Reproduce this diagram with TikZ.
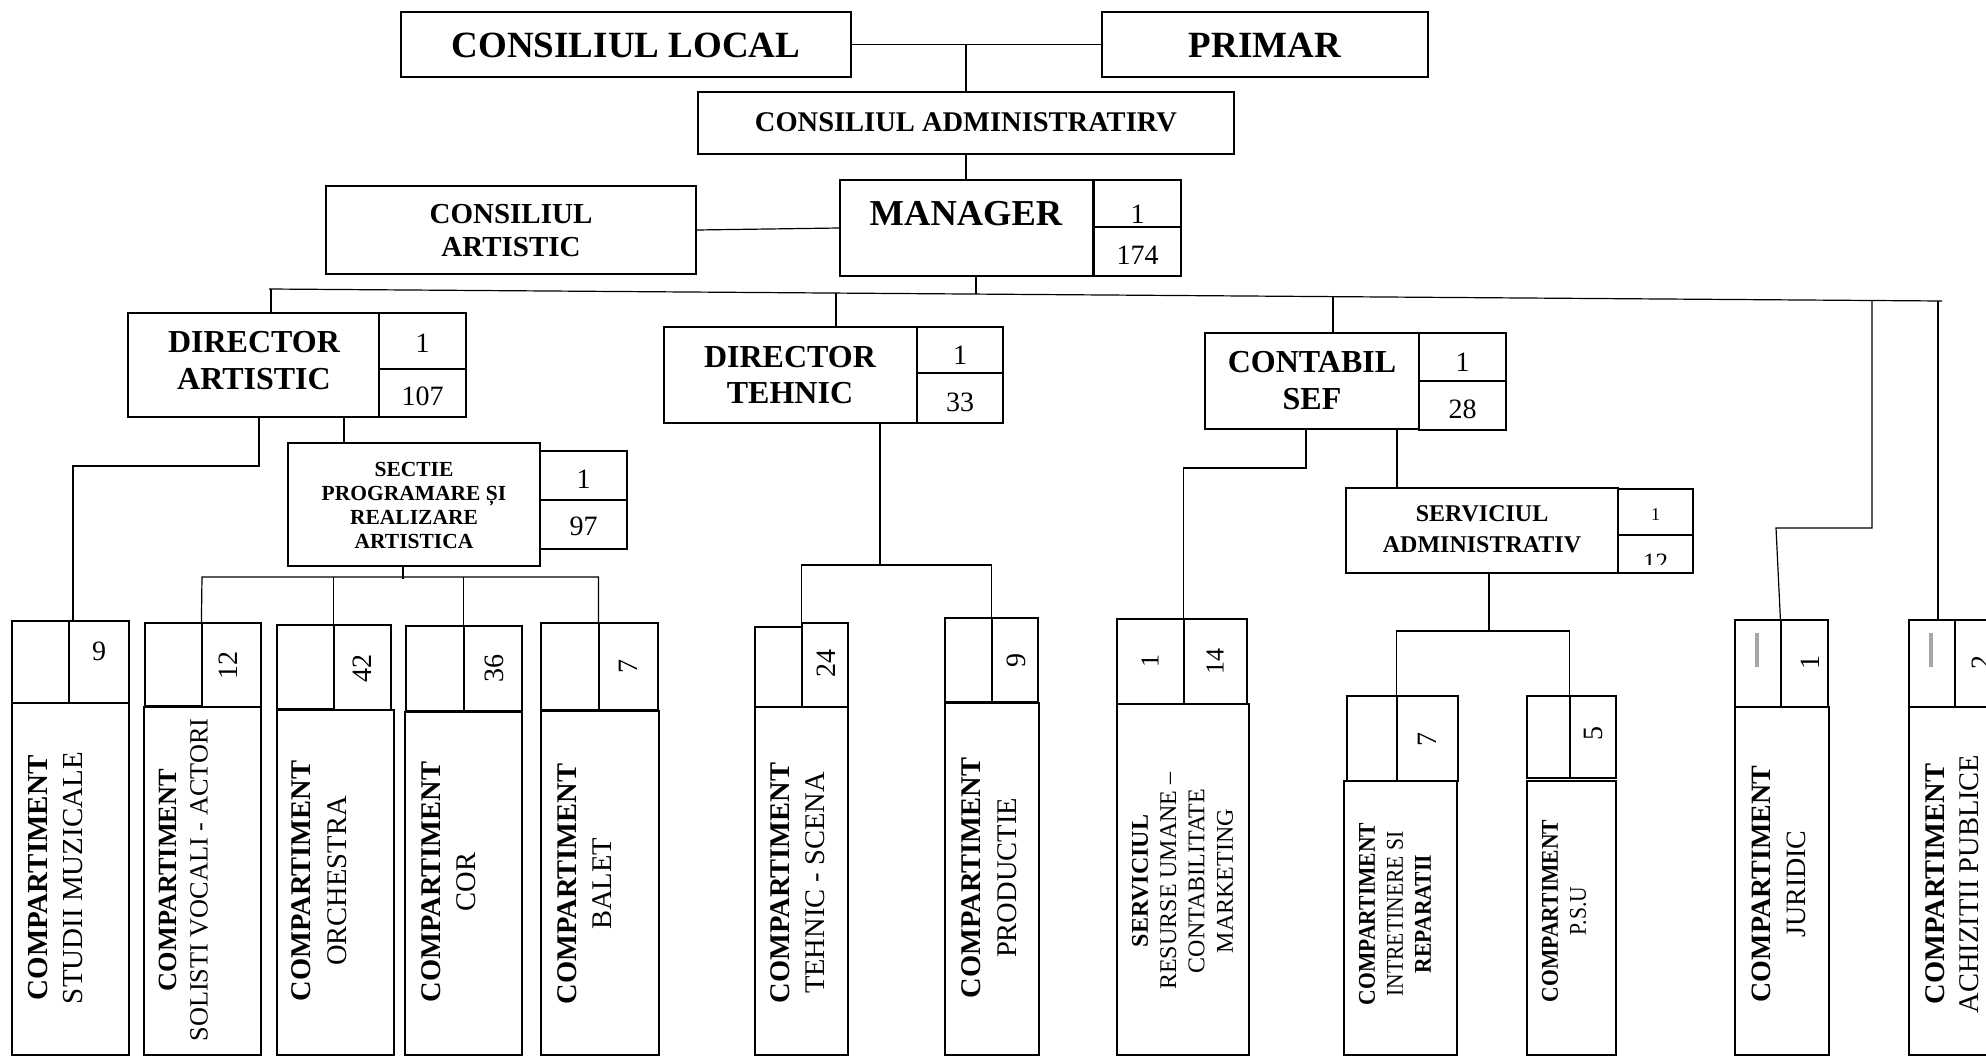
\documentclass[tikz,border=0pt]{standalone}
\usepackage{fontspec}
\setmainfont{Liberation Serif}
\newfontfamily\condfont[FakeStretch=0.9]{Liberation Serif}
\usetikzlibrary{fit}
\newcommand\fsz[2]{\fontsize{#1}{#2}\selectfont}
\newcommand\mkbox[6][]{\node[bx,#1,fit={(#3,#4) (#5,#6)}] (#2) {};}
\begin{document}
\begin{tikzpicture}[x=1pt,y=-1pt,
  bx/.style={draw,inner sep=0pt,line width=1.2pt},
  tbx/.style={line width=2.4pt},
  cn/.style={draw,line width=1.2pt},
  txt/.style={align=center,inner sep=0pt},
  rt/.style={align=center,inner sep=0pt,rotate=90},
  num/.style={inner sep=0pt,font=\fsz{28}{30}},
  rnum/.style={inner sep=0pt,rotate=90,font=\fsz{28}{30}},
  gbar/.style={draw=black!35,line width=4.5pt}]
\useasboundingbox (0,0) rectangle (1986,1057);
\fill[white] (0,0) rectangle (1986,1057);

% ---------- top ----------
\mkbox[tbx]{cl}{401}{12}{851}{77}
\node[txt,font=\bfseries\fsz{37}{40}] (clT) at (626,45) {CONSILIUL LOCAL};
\mkbox[tbx]{pr}{1102}{12}{1428}{77}
\node[txt,font=\bfseries\fsz{37}{40}] (prT) at (1265,45) {PRIMAR};
\mkbox{adm}{698}{92}{1234}{154}
\node[txt,font=\bfseries\fsz{28.5}{32}] (admT) at (966,122) {CONSILIUL ADMINISTRATIRV};
\mkbox{ca}{326}{186}{696}{274}
\node[txt,font=\bfseries\fsz{29}{33}] (caT) at (511,231) {CONSILIUL\\ARTISTIC};
\mkbox{mgr}{840}{180}{1093}{276}
\node[txt,font=\bfseries\fsz{36.5}{40}] (mgrT) at (966,214) {MANAGER};
\mkbox{mgrA}{1094}{180}{1181}{227}
\mkbox{mgrB}{1094}{227}{1181}{276}
\node[num] (mgrA1) at (1137.5,214) {1};
\node[num] (mgrB1) at (1137.5,255) {174};

\draw[cn] (cl.east) -- (pr.west);
\draw[cn] (adm.north) -- (adm.north |- cl.east);
\draw[cn] (adm.south) -- (adm.south |- mgr.north);
\draw[cn] (ca.east) -- (mgr.west);

% ---------- main bus ----------
\coordinate (busL) at (269,289);
\coordinate (busR) at (1942,301);
\draw[cn] (busL) -- (busR);
\coordinate (mgrD) at (976,276);
\coordinate (busM) at (976,294.1);
\draw[cn] (mgrD) -- (busM);

% ---------- second row ----------
\mkbox{da}{128}{313}{379}{417}
\node[txt,font=\bfseries\fsz{32}{37}] (daT) at (254,361) {DIRECTOR\\ARTISTIC};
\mkbox{daA}{379}{313}{466}{369}
\mkbox{daB}{379}{369}{466}{417}
\node[num] (daA1) at (422.5,343) {1};
\node[num] (daB1) at (422.5,396) {107};
\coordinate (busDA) at (271,289);
\draw[cn] (busDA) -- (busDA |- da.north);

\mkbox{dt}{664}{327}{917}{423}
\node[txt,font=\bfseries\fsz{32}{36}] (dtT) at (790,375) {DIRECTOR\\TEHNIC};
\mkbox{dtA}{917}{327}{1003}{373}
\mkbox{dtB}{917}{373}{1003}{423}
\node[num] (dtA1) at (960,355) {1};
\node[num] (dtB1) at (960,402) {33};
\coordinate (busDT) at (836,293.1);
\draw[cn] (busDT) -- (busDT |- dt.north);

\mkbox{cs}{1205}{333}{1419}{429}
\node[txt,font=\bfseries\fsz{32}{37}] (csT) at (1312,381) {CONTABIL\\SEF};
\mkbox{csA}{1419}{333}{1506}{381}
\mkbox{csB}{1419}{381}{1506}{430}
\node[num] (csA1) at (1462.5,362) {1};
\node[num] (csB1) at (1462.5,409) {28};
\coordinate (busCS) at (1333,296.6);
\draw[cn] (busCS) -- (busCS |- cs.north);

% ---------- sectie ----------
\mkbox{sec}{288}{443}{540}{566}
\node[txt,font=\bfseries\fsz{21.5}{24}] (secT) at (414,505) {SECTIE\\PROGRAMARE ȘI\\REALIZARE\\ARTISTICA};
\mkbox{secA}{540}{451}{627}{500}
\mkbox{secB}{540}{500}{627}{549}
\node[num] (secA1) at (583.5,479) {1};
\node[num] (secB1) at (583.5,526) {97};
\coordinate (daS) at (344,417);
\draw[cn] (daS) -- (daS |- sec.north);

% ---------- serviciul administrativ ----------
\mkbox{sa}{1346}{488}{1618}{573}
\node[txt,font=\bfseries\fsz{24}{31}] (saT) at (1482,529) {SERVICIUL\\ADMINISTRATIV};
\mkbox{saA}{1618}{489}{1693}{535}
\mkbox{saB}{1618}{535}{1693}{573}
\node[inner sep=0pt,font=\fsz{18}{20}] (saA1) at (1655.5,515) {1};
\begin{scope}
\clip (1618,535) rectangle (1693,564);
\node[inner sep=0pt,font=\fsz{25}{27},anchor=north] (saB1) at (1655.5,554) {12};
\end{scope}
\coordinate (csD2) at (1397,430);
\draw[cn] (csD2) -- (csD2 |- sa.north);

% ---------- bottom boxes ----------
% box 1
\mkbox{b1L}{12}{621}{69}{703}
\mkbox[tbx]{b1R}{69}{621}{129}{703}
\mkbox{b1D}{12}{703}{129}{1055}
\node[num] (b1n) at (99,651) {9};
\node[rt,font=\fsz{29}{35}] (b1T) at (55.5,878) {\textbf{COMPARTIMENT}\\STUDII MUZICALE};
% box 2
\mkbox{b2L}{145}{623}{202}{706}
\mkbox{b2R}{202}{623}{261}{707}
\mkbox{b2D}{144}{707}{261}{1055}
\node[rnum] (b2n) at (228,665) {12};
\node[rt,font=\fsz{26.3}{31}] (b2T) at (183.5,880) {\textbf{COMPARTIMENT}\\SOLISTI VOCALI - ACTORI};
% box 3
\mkbox{b3L}{277}{625}{334}{709}
\mkbox{b3R}{334}{625}{391}{710}
\mkbox{b3D}{277}{710}{394}{1055}
\node[rnum] (b3n) at (362,668) {42};
\node[rt,font=\fsz{28.5}{36}] (b3T) at (319,881) {\textbf{COMPARTIMENT}\\ORCHESTRA};
% box 4
\mkbox{b4L}{406}{626}{464}{711}
\mkbox{b4R}{464}{626}{522}{711}
\mkbox{b4D}{405}{712}{522}{1055}
\node[rnum] (b4n) at (494,668) {36};
\node[rt,font=\fsz{28.5}{35}] (b4T) at (448.5,882) {\textbf{COMPARTIMENT}\\COR};
% box 5
\mkbox{b5L}{541}{623}{599}{710}
\mkbox{b5R}{599}{623}{658}{710}
\mkbox{b5D}{541}{711}{659}{1055}
\node[rnum] (b5n) at (628,666) {7};
\node[rt,font=\fsz{28.5}{35}] (b5T) at (584.5,884) {\textbf{COMPARTIMENT}\\BALET};
% box 6
\mkbox{b6L}{755}{627}{802}{707}
\mkbox{b6R}{802}{623}{848}{707}
\mkbox{b6D}{755}{707}{848}{1055}
\node[rnum] (b6n) at (826,663) {24};
\node[rt,font=\fsz{28.5}{35}] (b6T) at (797.5,883) {\textbf{COMPARTIMENT}\\TEHNIC - SCENA};
% box 7
\mkbox{b7L}{945}{618}{992}{702}
\mkbox{b7R}{992}{618}{1038}{702}
\mkbox{b7D}{945}{703}{1039}{1055}
\node[rnum] (b7n) at (1016,660) {9};
\node[rt,font=\fsz{28.5}{36}] (b7T) at (989,878) {\textbf{COMPARTIMENT}\\PRODUCTIE};
% serviciul resurse umane
\mkbox{srL}{1117}{619}{1184}{704}
\mkbox{srR}{1184}{619}{1247}{704}
\mkbox{srD}{1117}{704}{1249}{1055}
\node[rnum,font=\fsz{26}{28}] (srn1) at (1150,661) {1};
\node[rnum,font=\fsz{26}{28}] (srn2) at (1215,661) {14};
\node[rt,font=\fsz{24}{28.3}] (srT) at (1182.5,881) {\textbf{SERVICIUL}\\RESURSE UMANE –\\CONTABILITATE\\MARKETING};
% intretinere
\mkbox{inL}{1347}{696}{1397}{781}
\mkbox{inR}{1397}{696}{1458}{781}
\mkbox{inD}{1344}{781}{1457}{1055}
\node[rnum] (inn) at (1427,739) {7};
\node[rt,font=\condfont\fsz{24}{28}] (inT) at (1395,914) {\textbf{COMPARTIMENT}\\INTRETINERE SI\\\textbf{REPARATII}};
% psu
\mkbox{psL}{1527}{696}{1570}{778}
\mkbox{psR}{1570}{696}{1616}{778}
\mkbox{psD}{1527}{781}{1616}{1055}
\node[rnum] (psn) at (1593,733) {5};
\node[rt,font=\condfont\fsz{24}{28}] (psT) at (1564,911) {\textbf{COMPARTIMENT}\\P.S.U};
% juridic
\mkbox{juL}{1735}{620}{1781}{707}
\mkbox{juR}{1781}{620}{1828}{707}
\mkbox{juD}{1735}{707}{1829}{1055}
\draw[gbar] (1757,633) -- (1757,667);
\node[rnum] (jun) at (1810,662) {1};
\node[rt,font=\fsz{28}{35}] (juT) at (1778.5,884) {\textbf{COMPARTIMENT}\\JURIDIC};
% achizitii
\mkbox{acL}{1909}{620}{1955}{707}
\mkbox{acR}{1955}{620}{2002}{707}
\mkbox{acD}{1909}{707}{2003}{1055}
\draw[gbar] (1931,633) -- (1931,667);
\node[rnum] (acn) at (1981,662) {2};
\node[rt,font=\fsz{28.5}{34}] (acT) at (1952,884) {\textbf{COMPARTIMENT}\\ACHIZITII PUBLICE};

% ---------- connectors to bottom boxes ----------
\coordinate (daL) at (259,417);
\coordinate (daLb) at (259,466);
\coordinate (b1J) at (73,466);
\draw[cn] (daL) -- (daLb) -- (b1J) -- (b1J |- b1R.north);

\coordinate (secD) at (403,566);
\coordinate (secDe) at (403,579);
\draw[cn] (secD) -- (secDe);
\coordinate (sbL) at (202,577);
\draw[cn] (b2R.north west) -- (sbL) -- (sbL -| b5R.north west) -- (b5R.north west);
\draw[cn] (b3R.north west |- sbL) -- (b3R.north west);
\draw[cn] (b4R.north west |- sbL) -- (b4R.north west);

\coordinate (dtD) at (880,423);
\coordinate (dtJ) at (880,565);
\draw[cn] (dtD) -- (dtJ);
\draw[cn] (b6R.north west) -- (b6R.north west |- dtJ) -- (b7R.north west |- dtJ) -- (b7R.north west);

\coordinate (csD1) at (1306,429);
\coordinate (csJ) at (1306,468);
\draw[cn] (csD1) -- (csJ) -- (csJ -| srR.north west) -- (srR.north west);

\coordinate (saD) at (1489,573);
\coordinate (saJ) at (1489,631);
\draw[cn] (saD) -- (saJ);
\draw[cn] (inR.north west) -- (inR.north west |- saJ) -- (psR.north west |- saJ) -- (psR.north west);

\coordinate (busJ) at (1872,300.5);
\coordinate (jA) at (1872,528);
\coordinate (jB) at (1776,528);
\draw[cn] (busJ) -- (jA) -- (jB) -- (juR.north west);

\coordinate (busA) at (1938,301);
\draw[cn] (busA) -- (busA |- acL.north);
\end{tikzpicture}
\end{document}
